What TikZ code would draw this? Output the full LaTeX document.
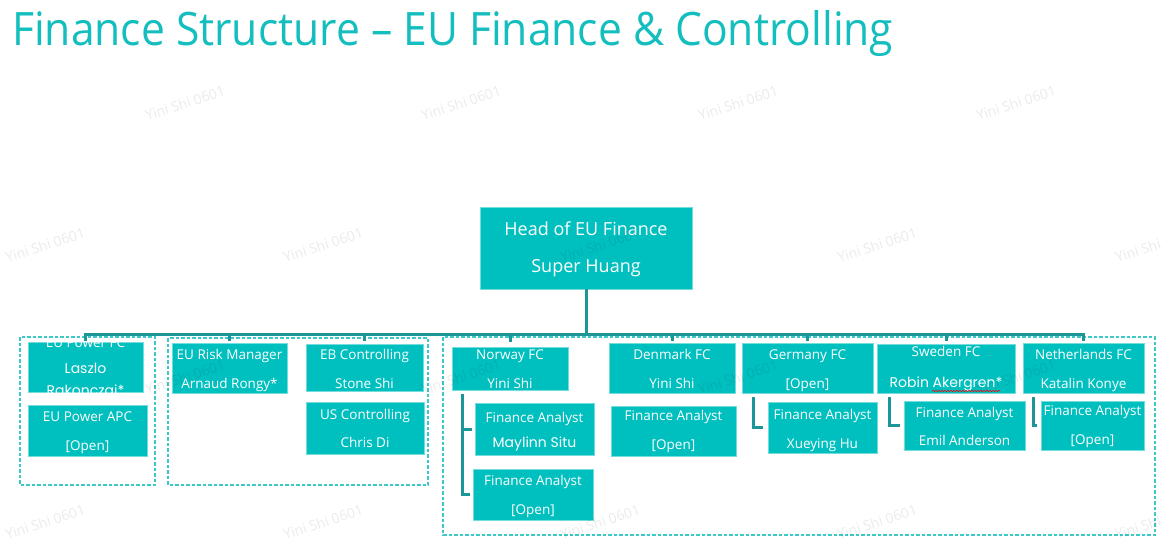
\documentclass[tikz,border=0pt]{standalone}
\usepackage{fontspec}
\setmainfont{Open Sans}
\newfontfamily\altfont{Poppins}
\usetikzlibrary{calc,decorations.pathmorphing}
\definecolor{tealfill}{RGB}{0,191,191}
\definecolor{tealline}{RGB}{28,150,150}
\definecolor{tealdash}{RGB}{60,200,200}
\definecolor{titlecol}{RGB}{20,190,190}
\newcommand\altname[1]{{\altfont\fontsize{14}{15}\selectfont #1}}
\newcommand\obox[5]{%
  \node[orgbox, minimum width={(#4-#2)*1pt}, minimum height={(#5-#3)*1pt}] (#1) at (#2,#3) {};}
\newcommand\tbox[9]{%
  \obox{#1}{#2}{#3}{#4}{#5}
  \node[boxtxt] (#1-a) at (#1.north |- 0,#6) {#8};
  \node[boxtxt] (#1-b) at (#1.north |- 0,#7) {#9};}
\begin{document}
\begin{tikzpicture}[x=1pt,y=-1pt,
  orgbox/.style={draw=tealfill!55!white, line width=0.8pt, fill=tealfill, inner sep=0pt, outer sep=0pt, anchor=north west},
  boxtxt/.style={text=white, font=\fontsize{13.5}{14}\selectfont, anchor=base, inner sep=0pt},
  headtxt/.style={text=white, font=\fontsize{18}{19}\selectfont, anchor=base, inner sep=0pt},
  frame/.style={draw=tealdash, line width=1.1pt, dash pattern=on 3.5pt off 2pt},
  conn/.style={draw=tealline, line width=3pt},
  wm/.style={text=black, opacity=0.08, rotate=18, font=\fontsize{14}{14}\selectfont, inner sep=0pt}]
\useasboundingbox (0,0) rectangle (1164,542);

% title
\node[anchor=base west, inner sep=0pt, text=titlecol] (title) at (12,45)
  {\resizebox{881pt}{35pt}{\fontsize{44}{46}\selectfont Finance Structure – EU Finance \& Controlling}};

% dashed group frames
\draw[frame] (20,337) rectangle (155,485);
\draw[frame] (168,338) rectangle (428,485);
\draw[frame] (443,337) rectangle (1155,535);

% head
\obox{head}{480}{207}{692}{289}
\node[headtxt] (head-a) at (head.north |- 0,235) {Head of EU Finance};
\node[headtxt] (head-b) at (head.north |- 0,272) {Super Huang};

% EU Power FC (text overflows and is clipped by the box)
\obox{epfc}{28}{342}{143}{392}
\begin{scope}
  \clip (epfc.north west) rectangle (epfc.south east);
  \node[boxtxt] (epfc-a) at (epfc.north |- 0,347) {EU Power FC};
  \node[boxtxt] (epfc-b) at (epfc.north |- 0,373) {\altname{Laszlo}};
  \node[boxtxt] (epfc-c) at (epfc.north |- 0,395) {\altname{Rakonczai*}};
\end{scope}

\tbox{epapc}{28}{405}{147}{456}{421}{450}{EU Power APC}{[Open]}
\tbox{erm}{172}{343}{287}{393}{359}{388}{EU Risk Manager}{Arnaud Rongy*}
\tbox{ebc}{306}{344}{423}{391}{359}{388}{EB Controlling}{Stone Shi}
\tbox{usc}{306}{402}{424}{454}{419}{447}{US Controlling}{Chris Di}
\tbox{nor}{452}{347}{568}{390}{359}{388}{Norway FC}{Yini Shi}
\tbox{norfa1}{475}{403}{594}{455}{422}{447}{Finance Analyst}{\altname{Maylinn Situ}}
\tbox{norfa2}{473}{469}{593}{520}{485}{514}{Finance Analyst}{[Open]}
\tbox{den}{609}{343}{735}{393}{359}{388}{Denmark FC}{Yini Shi}
\tbox{denfa}{611}{406}{736}{456}{420}{449}{Finance Analyst}{[Open]}
\tbox{ger}{742}{343}{873}{393}{359}{388}{Germany FC}{[Open]}
\tbox{gerfa}{768}{402}{877}{453}{419}{448}{Finance Analyst}{Xueying Hu}
\tbox{swe}{877}{344}{1015}{393}{356}{387}{Sweden FC}{\altname{Robin Akergren*}}
\tbox{swefa}{904}{401}{1025}{450}{417}{445}{Finance Analyst}{Emil Anderson}
\tbox{net}{1023}{343}{1144}{393}{359}{388}{Netherlands FC}{Katalin Konye}
\tbox{netfa}{1041}{401}{1144}{450}{415}{444}{Finance Analyst}{[Open]}

% spell-check squiggle
\draw[red, line width=0.5pt, decorate, decoration={snake, amplitude=0.7pt, segment length=3pt}]
  (932,391) -- (1000,391);

% head to FCs
\foreach \c/\s in {epfc/1,erm/2,ebc/3,nor/5,den/2,ger/2,swe/3,net/2}
  \draw[conn, shorten >=\s pt] (head.south) -- ++(0,45) -| (\c.north);

% FC to analysts
\draw[conn] ($(nor.south west)+(10,4)$) |- ($(norfa1.west)+(-3,0)$);
\draw[conn] ($(nor.south west)+(10,4)$) |- ($(norfa2.west)+(-3,0)$);
\draw[conn] ($(ger.south west)+(11,4)$) |- ($(gerfa.west)+(-5,0)$);
\draw[conn] ($(swe.south west)+(12,4)$) |- ($(swefa.west)+(-4,0)$);
\draw[conn] ($(net.south west)+(10,4)$) |- ($(netfa.west)+(-4,0)$);

% watermarks
\foreach \x/\y in {185/103,461/103,738/103,1016/103,185/377,461/377,738/377,1016/377,
                   45/245,323/245,600/245,877/245,1155/245,45/522,323/522,600/522,877/522,1155/522}
  \node[wm] (wm-\x-\y) at (\x,\y) {Yini Shi 0601};
\end{tikzpicture}
\end{document}
